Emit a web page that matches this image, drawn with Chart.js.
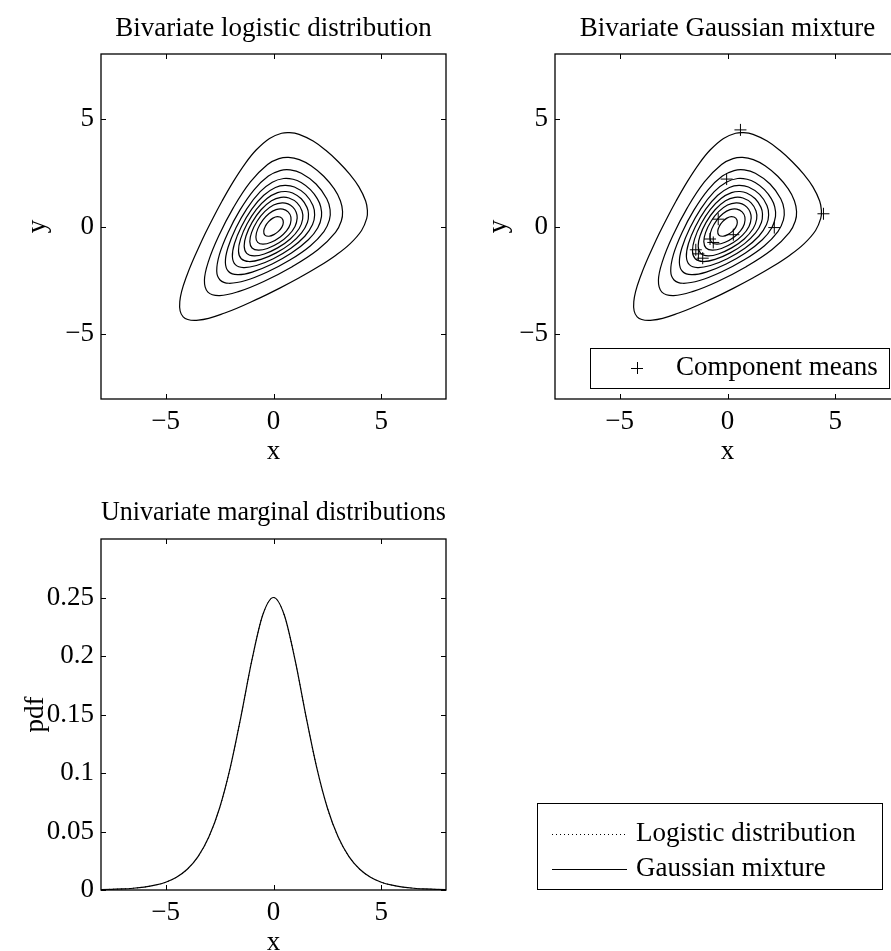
<!DOCTYPE html>
<html>
<head>
<meta charset="utf-8">
<script src="https://cdn.jsdelivr.net/npm/chart.js@4.4.0/dist/chart.umd.min.js"></script>
<style>
  html, body { margin: 0; padding: 0; background: #fff; overflow: hidden; }
  #page { position: relative; width: 891px; height: 951px; overflow: hidden; }
  canvas { position: absolute; }
</style>
</head>
<body>
<div id="page">
  <canvas id="logistic2d" width="460" height="480" style="left:0;top:0"></canvas>
  <canvas id="mixture2d" width="460" height="480" style="left:460px;top:0"></canvas>
  <canvas id="marginals" width="891" height="530" style="left:0;top:445px"></canvas>
</div>
<script>
"use strict";

// ticks
const contourTicks = [-5, 0, 5];
const pdfTicks = [0, 0.05, 0.1, 0.15, 0.2, 0.25];
const pdfTickLabels = ["0", "0.05", "0.1", "0.15", "0.2", "0.25"];

// contour loops as [x, y], outermost level first
const level1 = [[-4.19,-4.19],[-4.346,-3.485],[-4.013,-2.26],[-3.31,-0.628],[-2.868,0.268],[-2.378,1.193],[-1.871,2.071],[-1.329,2.895],[-0.806,3.546],[-0.184,4.085],[0.376,4.324],[0.745,4.355],[1.185,4.274],[1.839,3.961],[2.438,3.522],[3.004,3.004],
  [3.522,2.438],[3.961,1.839],[4.274,1.185],[4.355,0.745],[4.324,0.376],[4.085,-0.184],[3.546,-0.806],[2.895,-1.329],[2.071,-1.871],[1.193,-2.378],[0.268,-2.868],[-0.628,-3.31],[-2.26,-4.013],[-3.485,-4.346]];
const level2 = [[-3.043,-3.043],[-3.203,-2.497],[-3.008,-1.592],[-2.548,-0.452],[-1.866,0.866],[-1.071,2.071],[-0.275,2.875],[0.255,3.145],[0.697,3.203],[1.198,3.102],[1.742,2.818],[2.33,2.33],
  [2.818,1.742],[3.102,1.198],[3.203,0.697],[3.145,0.255],[2.875,-0.275],[2.071,-1.071],[0.866,-1.866],[-0.452,-2.548],[-1.592,-3.008],[-2.497,-3.203]];
const level3 = [[-2.48,-2.48],[-2.633,-2.067],[-2.506,-1.294],[-2.112,-0.288],[-1.558,0.758],[-0.902,1.702],[-0.238,2.338],[0.306,2.594],[0.775,2.625],[1.29,2.47],[1.973,1.973],
  [2.47,1.29],[2.625,0.775],[2.594,0.306],[2.338,-0.238],[1.702,-0.902],[0.758,-1.558],[-0.288,-2.112],[-1.294,-2.506],[-2.067,-2.633]];
const level4 = [[-2.085,-2.085],[-2.232,-1.668],[-2.114,-0.986],[-1.739,-0.061],[-1.232,0.832],[-0.616,1.616],[-0.056,2.056],[0.473,2.227],[0.909,2.191],[1.283,2.037],[1.71,1.71],
  [2.037,1.283],[2.191,0.909],[2.227,0.473],[2.056,-0.056],[1.616,-0.616],[0.832,-1.232],[-0.061,-1.739],[-0.986,-2.114],[-1.668,-2.232]];
const level5 = [[-1.77,-1.77],[-1.907,-1.393],[-1.81,-0.79],[-1.492,-0.008],[-1.008,0.808],[-0.452,1.452],[0.089,1.811],[0.532,1.908],[0.97,1.83],[1.488,1.488],
  [1.83,0.97],[1.908,0.532],[1.811,0.089],[1.452,-0.452],[0.808,-1.008],[-0.008,-1.492],[-0.79,-1.81],[-1.393,-1.907]];
const level6 = [[-1.496,-1.496],[-1.624,-1.136],[-1.525,-0.575],[-1.224,0.124],[-0.793,0.793],[-0.301,1.301],[0.188,1.572],[0.578,1.623],[0.887,1.553],[1.288,1.288],
  [1.553,0.887],[1.623,0.578],[1.572,0.188],[1.301,-0.301],[0.793,-0.793],[0.124,-1.224],[-0.575,-1.525],[-1.136,-1.624]];
const level7 = [[-1.243,-1.243],[-1.36,-0.9],[-1.273,-0.427],[-0.992,0.192],[-0.577,0.777],[-0.092,1.192],[0.347,1.353],[0.717,1.323],[1.095,1.095],
  [1.323,0.717],[1.353,0.347],[1.192,-0.092],[0.777,-0.577],[0.192,-0.992],[-0.427,-1.273],[-0.9,-1.36]];
const level8 = [[-0.995,-0.995],[-1.099,-0.702],[-1.018,-0.282],[-0.754,0.254],[-0.399,0.699],[0.003,0.997],[0.401,1.099],[0.673,1.047],[0.898,0.898],
  [1.047,0.673],[1.099,0.401],[0.997,0.003],[0.699,-0.399],[0.254,-0.754],[-0.282,-1.018],[-0.702,-1.099]];
const level9 = [[-0.733,-0.733],[-0.817,-0.483],[-0.729,-0.111],[-0.495,0.295],[-0.202,0.602],[0.118,0.782],[0.433,0.807],[0.678,0.678],
  [0.807,0.433],[0.782,0.118],[0.602,-0.202],[0.295,-0.495],[-0.111,-0.729],[-0.483,-0.817]];
const level10 = [[-0.402,-0.402],[-0.452,-0.208],[-0.377,0.017],[-0.227,0.227],[-0.028,0.388],[0.185,0.455],[0.385,0.385],
  [0.455,0.185],[0.388,-0.028],[0.227,-0.227],[0.017,-0.377],[-0.208,-0.452]];
const levels = [level1, level2, level3, level4, level5, level6, level7, level8, level9, level10];

// component means of the mixture
const meansX = [0.6, -0.04, 4.45, 2.17, -0.43, 0.27, -0.81, -0.66, -1.47, -1.35, -1.15];
const meansY = [4.48, 2.2, 0.59, -0.05, 0.34, -0.38, -0.58, -0.74, -1.08, -1.27, -1.47];

// marginal densities
const marginalX = [-8, -7.5, -7, -6.5, -6, -5.5, -5, -4.5, -4, -3.5, -3, -2.5, -2, -1.5, -1, -0.5, 0,
  0.5, 1, 1.5, 2, 2.5, 3, 3.5, 4, 4.5, 5, 5.5, 6, 6.5, 7, 7.5, 8];
const logisticPdf = [0.0003, 0.0006, 0.0009, 0.0015, 0.0025, 0.0041, 0.0066, 0.0109, 0.0177, 0.0285, 0.0452, 0.0701, 0.105, 0.1491, 0.1966, 0.235, 0.25,
  0.235, 0.1966, 0.1491, 0.105, 0.0701, 0.0452, 0.0285, 0.0177, 0.0109, 0.0066, 0.0041, 0.0025, 0.0015, 0.0009, 0.0006, 0.0003];
const mixturePdf = [0.0003, 0.0006, 0.0009, 0.0015, 0.0025, 0.0041, 0.0066, 0.0109, 0.0177, 0.0285, 0.0452, 0.0701, 0.105, 0.1491, 0.1966, 0.235, 0.25,
  0.235, 0.1966, 0.1491, 0.105, 0.0701, 0.0452, 0.0285, 0.0177, 0.0109, 0.0066, 0.0041, 0.0025, 0.0015, 0.0009, 0.0006, 0.0003];

const FONT = "'Liberation Serif', 'Times New Roman', serif";
Chart.defaults.font.family = FONT;
Chart.defaults.font.size = 27;
Chart.defaults.color = "#000";
Chart.defaults.animation = false;

const minus = v => (v < 0 ? "\u2212" + Math.abs(v) : String(v));

// wrap a closed loop so every visible segment has neighbours on both sides
function loopData(points) {
  return [points[points.length - 1], ...points, points[0], points[1]];
}

function contourSets(list) {
  return list.map(pts => {
    const data = loopData(pts);
    const last = data.length - 2;
    return {
      data: data,
      showLine: true,
      borderColor: "#000",
      borderWidth: 1.2,
      pointRadius: 0,
      tension: 0.4,
      segment: {
        borderColor: c => (c.p0DataIndex === 0 || c.p0DataIndex === last ? "rgba(0,0,0,0)" : undefined),
      },
    };
  });
}

function fixedTicks(values) {
  return function (scale) {
    scale.ticks = values.map(v => ({ value: v }));
  };
}

function axis(opts) {
  return {
    type: "linear",
    min: opts.min,
    max: opts.max,
    afterBuildTicks: fixedTicks(opts.ticks),
    afterFit: opts.fit,
    grid: { display: false, drawTicks: false },
    border: { display: false },
    ticks: { callback: opts.label, padding: opts.pad, maxRotation: 0, autoSkip: false, font: { lineHeight: 1.2 } },
    title: { display: true, text: opts.title, font: { lineHeight: 1 }, padding: opts.titlePad },
  };
}

// box round the plot with inward ticks on all sides
const frame = {
  id: "frame",
  afterDatasetsDraw(chart) {
    const { ctx, chartArea: a, scales } = chart;
    const len = 5;
    ctx.save();
    ctx.strokeStyle = "#000";
    ctx.lineWidth = 1;
    ctx.beginPath();
    scales.x.ticks.forEach(t => {
      const px = Math.round(scales.x.getPixelForValue(t.value)) + 0.5;
      ctx.moveTo(px, a.bottom); ctx.lineTo(px, a.bottom - len);
      ctx.moveTo(px, a.top); ctx.lineTo(px, a.top + len);
    });
    scales.y.ticks.forEach(t => {
      const py = Math.round(scales.y.getPixelForValue(t.value)) + 0.5;
      ctx.moveTo(a.left, py); ctx.lineTo(a.left + len, py);
      ctx.moveTo(a.right, py); ctx.lineTo(a.right - len, py);
    });
    ctx.stroke();
    ctx.lineWidth = 1.3;
    ctx.strokeRect(a.left, a.top, a.right - a.left, a.bottom - a.top);
    ctx.restore();
  },
};

function contourOptions(title, yWidth, yTitlePad) {
  return {
    responsive: false,
    layout: { padding: { left: 0, right: 460 - yWidth - 345, top: 0, bottom: 0 } },
    plugins: {
      legend: { display: false },
      tooltip: { enabled: false },
      title: { display: true, text: title, fullSize: false, font: { size: 27, weight: "normal", lineHeight: 1.2 }, padding: { top: 12.7, bottom: 8.9 } },
    },
    scales: {
      x: axis({ min: -8, max: 8, ticks: contourTicks, label: minus, pad: 7, title: "x",
        titlePad: { top: 0, bottom: 15 }, fit: s => { s.height = 81; } }),
      y: axis({ min: -8, max: 8, ticks: contourTicks, label: minus, pad: 7, title: "y",
        titlePad: { top: yTitlePad, bottom: 0 }, fit: s => { s.width = yWidth; } }),
    },
  };
}

new Chart(document.getElementById("logistic2d"), {
  type: "scatter",
  data: { datasets: contourSets(levels) },
  options: contourOptions("Bivariate logistic distribution", 101, 24.5),
  plugins: [frame],
});

const meansLegend = {
  id: "meansLegend",
  afterDraw(chart) {
    const ctx = chart.ctx;
    const ds = chart.data.datasets[chart.data.datasets.length - 1];
    ctx.save();
    ctx.fillStyle = "#fff";
    ctx.fillRect(130, 348, 300, 40);
    ctx.strokeStyle = "#000";
    ctx.lineWidth = 1;
    ctx.strokeRect(130.5, 348.5, 299, 40);
    ctx.beginPath();
    ctx.moveTo(171, 368.5); ctx.lineTo(183, 368.5);
    ctx.moveTo(177.5, 362); ctx.lineTo(177.5, 374);
    ctx.stroke();
    ctx.fillStyle = "#000";
    ctx.font = "27px " + FONT;
    ctx.textBaseline = "middle";
    ctx.fillText(ds.label, 216, 368);
    ctx.restore();
  },
};

new Chart(document.getElementById("mixture2d"), {
  type: "scatter",
  data: {
    datasets: contourSets(levels).concat([{
      label: "Component means",
      data: meansX.map((x, i) => ({ x: x, y: meansY[i] })),
      pointStyle: "cross",
      pointRadius: 6,
      borderColor: "#000",
      borderWidth: 1,
    }]),
  },
  options: contourOptions("Bivariate Gaussian mixture", 95, 25.5),
  plugins: [frame, meansLegend],
});

const marginalLegend = {
  id: "marginalLegend",
  afterDraw(chart) {
    const ctx = chart.ctx;
    ctx.save();
    ctx.fillStyle = "#fff";
    ctx.fillRect(537, 358, 346, 87);
    ctx.strokeStyle = "#000";
    ctx.lineWidth = 1;
    ctx.strokeRect(537.5, 358.5, 345, 86);
    ctx.font = "27px " + FONT;
    ctx.textBaseline = "middle";
    ctx.fillStyle = "#000";
    chart.data.datasets.forEach((ds, i) => {
      const y = 389 + i * 35;
      ctx.setLineDash(ds.borderDash || []);
      ctx.beginPath();
      ctx.moveTo(552, y + 0.5); ctx.lineTo(627, y + 0.5);
      ctx.stroke();
      ctx.setLineDash([]);
      ctx.fillText(ds.label, 636, y);
    });
    ctx.restore();
  },
};

new Chart(document.getElementById("marginals"), {
  type: "scatter",
  data: {
    datasets: [
      {
        label: "Logistic distribution",
        data: marginalX.map((x, i) => ({ x: x, y: logisticPdf[i] })),
        showLine: true, borderColor: "#000", borderWidth: 1, borderDash: [1, 3],
        pointRadius: 0, cubicInterpolationMode: "monotone",
      },
      {
        label: "Gaussian mixture",
        data: marginalX.map((x, i) => ({ x: x, y: mixturePdf[i] })),
        showLine: true, borderColor: "#000", borderWidth: 1.2,
        pointRadius: 0, cubicInterpolationMode: "monotone",
      },
    ],
  },
  options: {
    responsive: false,
    layout: { padding: { left: 0, right: 445, top: 0, bottom: 0 } },
    plugins: {
      legend: { display: false },
      tooltip: { enabled: false },
      title: { display: true, text: "Univariate marginal distributions", fullSize: false, font: { size: 27, weight: "normal", lineHeight: 1.2 }, padding: { top: 51.7, bottom: 9.9 } },
    },
    scales: {
      x: axis({ min: -8, max: 8, ticks: contourTicks, label: minus, pad: 7, title: "x",
        titlePad: { top: 0, bottom: 18.5 }, fit: s => { s.height = 85; } }),
      y: axis({ min: 0, max: 0.3, ticks: pdfTicks, label: (v, i) => pdfTickLabels[i], pad: 7, title: "pdf",
        titlePad: { top: 22, bottom: 0 }, fit: s => { s.width = 101; } }),
    },
  },
  plugins: [frame, marginalLegend],
});
</script>
</body>
</html>
